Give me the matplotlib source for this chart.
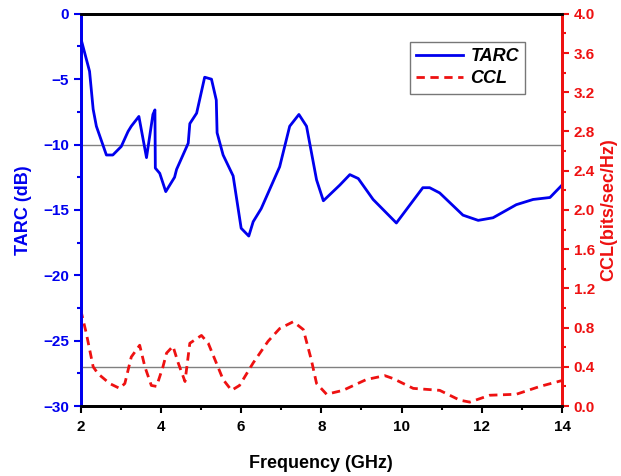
import numpy as np
import matplotlib.pyplot as plt
from matplotlib.ticker import MultipleLocator

plt.rcParams['font.family'] = ['Liberation Sans', 'DejaVu Sans']
plt.rcParams['font.weight'] = 'bold'

# TARC (dB)
f_tarc = [2.0, 2.22, 2.31, 2.39, 2.64, 2.80, 3.01, 3.18, 3.26, 3.45, 3.64, 3.80, 3.85, 3.86,
          3.97, 4.12, 4.34, 4.39, 4.68, 4.72, 4.89, 5.09, 5.26, 5.38, 5.40, 5.55, 5.80, 6.00,
          6.19, 6.30, 6.50, 6.96, 7.21, 7.44, 7.63, 7.88, 8.05, 8.46, 8.71, 8.92, 9.29, 9.87,
          10.53, 10.70, 10.95, 11.53, 11.91, 12.28, 12.86, 13.28, 13.70, 14.0]
tarc = [-1.84, -4.4, -7.3, -8.6, -10.8, -10.8, -10.15, -9.0, -8.6, -7.85, -11.0, -7.7, -7.35, -11.8,
        -12.2, -13.6, -12.5, -11.9, -9.9, -8.4, -7.6, -4.85, -5.0, -6.6, -9.1, -10.8, -12.4, -16.4,
        -17.0, -15.9, -14.9, -11.7, -8.6, -7.7, -8.6, -12.7, -14.3, -13.1, -12.3, -12.6, -14.2, -16.0,
        -13.3, -13.3, -13.7, -15.4, -15.8, -15.6, -14.6, -14.2, -14.05, -13.1]

# CCL (bits/sec/Hz)
f_ccl = [2.0, 2.14, 2.31, 2.43, 2.72, 2.97, 3.10, 3.26, 3.47, 3.60, 3.76, 3.89, 4.05, 4.14,
         4.30, 4.43, 4.60, 4.72, 5.01, 5.18, 5.38, 5.55, 5.76, 5.96, 6.30, 6.67, 6.96, 7.30,
         7.55, 7.75, 7.88, 8.13, 8.54, 9.12, 9.58, 9.79, 10.29, 10.95, 11.45, 11.70, 12.20,
         12.86, 13.45, 14.0]
ccl = [0.98, 0.74, 0.40, 0.33, 0.23, 0.18, 0.23, 0.50, 0.62, 0.40, 0.21, 0.20, 0.40, 0.54,
       0.61, 0.44, 0.25, 0.64, 0.72, 0.64, 0.44, 0.27, 0.16, 0.21, 0.44, 0.66, 0.79, 0.86,
       0.78, 0.47, 0.23, 0.12, 0.16, 0.27, 0.31, 0.28, 0.18, 0.16, 0.06, 0.04, 0.11,
       0.12, 0.20, 0.26]

blue = '#0000ee'
red = '#ee1111'

fig = plt.figure(figsize=(6.21, 4.76), dpi=100)
ax = fig.add_axes([0.130, 0.147, 0.775, 0.824])
ax2 = ax.twinx()

l1, = ax.plot(f_tarc, tarc, color=blue, lw=2, label='TARC', solid_joinstyle='round')
l2, = ax2.plot(f_ccl, ccl, color=red, lw=2, ls=(0, (3, 2)), label='CCL', dash_joinstyle='round')

ax.axhline(-10, color='gray', lw=1, zorder=0)
ax2.axhline(0.4, color='gray', lw=1, zorder=0)

ax.set_xlim(2, 14)
ax.set_ylim(-30, 0)
ax2.set_ylim(0, 4.0)

ax.xaxis.set_major_locator(MultipleLocator(2))
ax.xaxis.set_minor_locator(MultipleLocator(1))
ax.yaxis.set_major_locator(MultipleLocator(5))
ax.yaxis.set_minor_locator(MultipleLocator(2.5))
ax2.yaxis.set_major_locator(MultipleLocator(0.4))
ax2.yaxis.set_minor_locator(MultipleLocator(0.2))
ax2.yaxis.set_major_formatter(plt.FormatStrFormatter('%.1f'))

ax.tick_params(axis='x', which='major', length=5, width=1.5, labelsize=11, pad=5)
ax.tick_params(axis='x', which='minor', length=3, width=1.5)
ax.tick_params(axis='y', which='major', length=5, width=1.5, colors=blue, labelsize=11)
ax.tick_params(axis='y', which='minor', length=3, width=1.5, colors=blue)
ax2.tick_params(axis='y', which='major', length=5, width=1.5, colors=red, labelsize=11)
ax2.tick_params(axis='y', which='minor', length=3, width=1.5, colors=red)

for a in (ax, ax2):
    a.spines['top'].set_linewidth(2)
    a.spines['bottom'].set_linewidth(2)
    a.spines['left'].set_color(blue)
    a.spines['left'].set_linewidth(2)
    a.spines['right'].set_color(red)
    a.spines['right'].set_linewidth(2)

ax.set_xlabel('Frequency (GHz)', fontsize=13, fontweight='bold', labelpad=15)
ax.set_ylabel('TARC (dB)', fontsize=13, fontweight='bold', color=blue, labelpad=8)
ax2.set_ylabel('CCL(bits/sec/Hz)', fontsize=13, fontweight='bold', color=red, labelpad=4)

leg = ax.legend(handles=[l1, l2], loc='upper left', bbox_to_anchor=(0.665, 0.952),
                fancybox=False, edgecolor='#555555', handlelength=2.6, handletextpad=0.4,
                borderpad=0.35, labelspacing=0.3,
                prop={'weight': 'bold', 'style': 'italic', 'size': 13})
leg.get_frame().set_linewidth(1)

fig.savefig('out.png', dpi=100)
